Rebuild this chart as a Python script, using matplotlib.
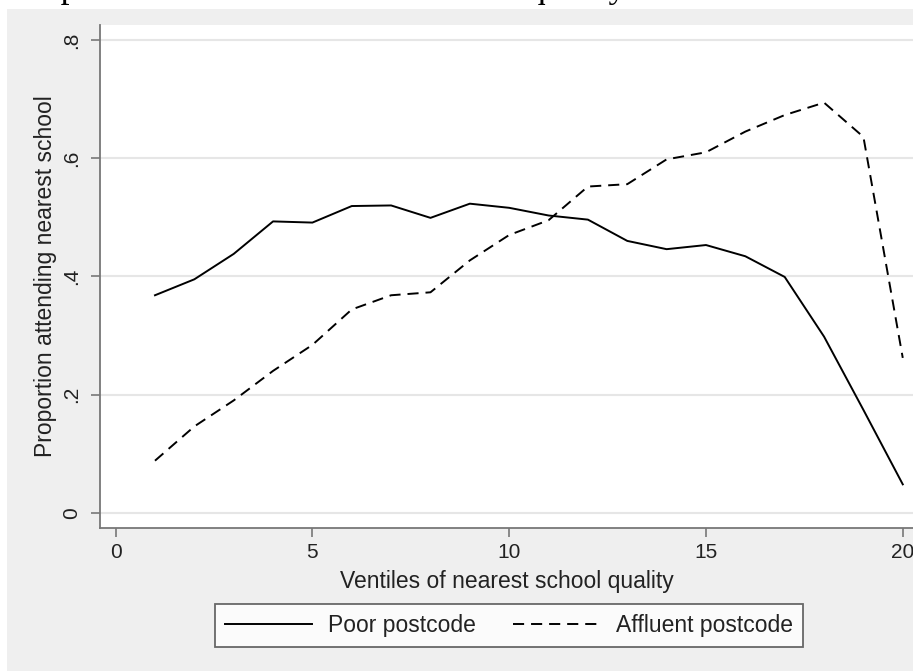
import matplotlib
matplotlib.use("Agg")
import matplotlib.pyplot as plt
from matplotlib.patches import Rectangle

# ventiles of nearest school quality
ventiles = list(range(1, 21))

# proportion attending nearest school
poor = [0.368, 0.395, 0.438, 0.493, 0.491, 0.519, 0.520, 0.499, 0.523, 0.516,
        0.503, 0.496, 0.460, 0.446, 0.453, 0.434, 0.399, 0.298, 0.174, 0.048]
affluent = [0.088, 0.146, 0.190, 0.240, 0.284, 0.344, 0.368, 0.373, 0.427, 0.470,
            0.495, 0.552, 0.556, 0.598, 0.610, 0.645, 0.673, 0.694, 0.636, 0.262]

series_labels = ["Poor postcode", "Affluent postcode"]
xticks = [0, 5, 10, 15, 20]
yticks = [0, 0.2, 0.4, 0.6, 0.8]
ytick_labels = ["0", ".2", ".4", ".6", ".8"]

W, H = 913, 671
plt.rcParams['font.family'] = ['Liberation Sans', 'DejaVu Sans']
plt.rcParams['lines.scale_dashes'] = False

fig = plt.figure(figsize=(W / 100, H / 100), dpi=100)
fig.patch.set_facecolor('white')

# gray graph region (Stata style), title sits above it and is cropped
fig.patches.append(Rectangle((7 / W, 0), 1 - 7 / W, 1 - 9 / H, transform=fig.transFigure,
                             facecolor='#efefef', edgecolor='none', zorder=-5))
fig.text(36 / W, 1 + 3 / H, "e postcodes and ventiles of school quality",
         family=['Liberation Serif', 'DejaVu Serif'], fontsize=25.5,
         ha='left', va='baseline', color='black', zorder=-4)

ax = fig.add_axes([100 / W, 1 - 528 / H, 1 - 100 / W, (528 - 25) / H])
ax.set_facecolor('white')

ax.plot(ventiles, poor, color='black', lw=1.4, label=series_labels[0])
ax.plot(ventiles, affluent, color='black', lw=1.4, dashes=(8, 5), label=series_labels[1])

ax.set_xlim(-0.397, 20.26)
ax.set_ylim(-0.0259, 0.8254)
ax.set_xticks(xticks)
ax.set_yticks(yticks)
ax.set_yticklabels(ytick_labels, rotation=90, va='center')

ax.grid(axis='y', color='#e6e6e6', lw=1.5)
ax.set_axisbelow(True)
for side in ['top', 'right']:
    ax.spines[side].set_visible(False)
for side in ['left', 'bottom']:
    ax.spines[side].set_color('#777777')
    ax.spines[side].set_linewidth(1.3)

ax.tick_params(axis='both', direction='out', length=6.5, width=1.2, color='#777777',
               labelsize=15, labelcolor='#222222')
ax.tick_params(axis='x', pad=4)
ax.tick_params(axis='y', pad=7)

ax.set_xlabel("Ventiles of nearest school quality", fontsize=16.5, color='#222222', labelpad=6)
ax.set_ylabel("Proportion attending nearest school", fontsize=16.5, color='#222222', labelpad=4)

leg = fig.legend(loc='center', bbox_to_anchor=(509 / W, 1 - 625.5 / H), ncol=2,
                 fontsize=16.5, frameon=True, fancybox=False, handlelength=3.8,
                 handletextpad=0.7, columnspacing=1.6, borderpad=0.45)
leg.get_frame().set_edgecolor('#444444')
leg.get_frame().set_linewidth(1.3)
leg.get_frame().set_facecolor('white')
for t in leg.get_texts():
    t.set_color('#222222')

fig.savefig("out.png", dpi=100)
